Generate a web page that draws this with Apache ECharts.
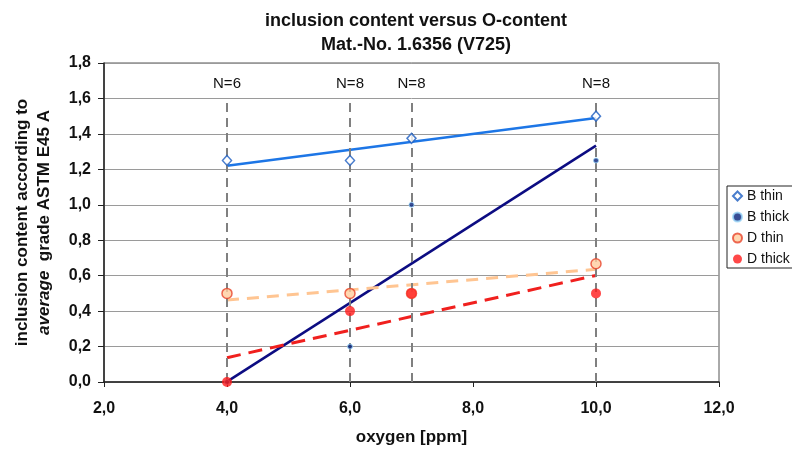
<!DOCTYPE html>
<html>
<head>
<meta charset="utf-8">
<script src="https://cdn.jsdelivr.net/npm/echarts@6/dist/echarts.min.js"></script>
<style>
  html, body { margin: 0; padding: 0; background: #fff; }
  #chart { width: 792px; height: 454px; }
</style>
</head>
<body>
<div id="chart"></div>
<script>
// Oxygen content of the heats (ppm) and number of samples per heat
const oxygen = [4, 6, 7, 10];
const sampleCounts = [6, 8, 8, 8];

// Average inclusion grade per ASTM E45 A
const bThin = [1.25, 1.25, 1.375, 1.5];
const bThick = [0, 0.2, 1.0, 1.25];
const dThin = [0.5, 0.5, 0.5, 0.667];
const dThick = [0, 0.4, 0.5, 0.5];

const seriesNames = ['B thin', 'B thick', 'D thin', 'D thick'];

const FONT = '"Liberation Sans", Arial, sans-serif';
const comma = v => v.toFixed(1).replace('.', ',');

// Least-squares trend line evaluated at the smallest and largest oxygen value
function trend(xs, ys) {
  const n = xs.length;
  const mx = xs.reduce((a, b) => a + b, 0) / n;
  const my = ys.reduce((a, b) => a + b, 0) / n;
  let sxy = 0, sxx = 0;
  for (let i = 0; i < n; i++) {
    sxy += (xs[i] - mx) * (ys[i] - my);
    sxx += (xs[i] - mx) * (xs[i] - mx);
  }
  const k = sxy / sxx;
  const x0 = Math.min(...xs), x1 = Math.max(...xs);
  return [[x0, my + k * (x0 - mx)], [x1, my + k * (x1 - mx)]];
}

const pts = ys => oxygen.map((x, i) => [x, ys[i]]);

function trendSeries(ys, color, type, width) {
  return {
    type: 'line', data: trend(oxygen, ys), symbol: 'none', silent: true,
    lineStyle: { color: color, width: width, type: type }, z: 3
  };
}

const chart = echarts.init(document.getElementById('chart'), null, { renderer: 'canvas' });

chart.setOption({
  animation: false,
  backgroundColor: '#fff',
  title: {
    text: 'inclusion content versus O-content\nMat.-No. 1.6356 (V725)',
    left: 411, top: 4, textAlign: 'center',
    textStyle: { fontFamily: FONT, fontWeight: 'bold', fontSize: 18, lineHeight: 24, color: '#111' }
  },
  grid: {
    left: 104, right: 73, top: 63, bottom: 72,
    show: true, borderColor: '#555', borderWidth: 1
  },
  legend: {
    data: seriesNames,
    orient: 'vertical', left: 727, top: 186,
    borderColor: '#222', borderWidth: 1, padding: [3, 6, 2, 5],
    itemWidth: 9, itemHeight: 9, itemGap: 7,
    textStyle: { fontFamily: FONT, fontSize: 14, color: '#111' }
  },
  xAxis: {
    type: 'value', min: 2, max: 12, interval: 2,
    name: 'oxygen [ppm]', nameLocation: 'middle', nameGap: 47,
    nameTextStyle: { fontFamily: FONT, fontWeight: 'bold', fontSize: 17, color: '#111' },
    axisLine: { lineStyle: { color: '#222', width: 1.5 } },
    axisTick: { show: true, length: 5, lineStyle: { color: '#222' } },
    axisLabel: { formatter: comma, fontFamily: FONT, fontWeight: 'bold', fontSize: 16, color: '#111', margin: 19 },
    splitLine: { show: false }
  },
  yAxis: {
    type: 'value', min: 0, max: 1.8, interval: 0.2,
    name: '{n|inclusion content according to}\n{i|average}{n|  grade ASTM E45 A}',
    nameLocation: 'middle', nameGap: 49, nameRotate: 90,
    nameTextStyle: {
      fontFamily: FONT, fontWeight: 'bold', fontSize: 17, color: '#111', lineHeight: 22,
      rich: {
        n: { fontFamily: FONT, fontWeight: 'bold', fontSize: 17, color: '#111', lineHeight: 22 },
        i: { fontFamily: FONT, fontWeight: 'bold', fontStyle: 'italic', fontSize: 17, color: '#111', lineHeight: 22 }
      }
    },
    axisLine: { show: true, lineStyle: { color: '#222', width: 1.5 } },
    axisTick: { show: true, length: 6, lineStyle: { color: '#222' } },
    axisLabel: { formatter: comma, fontFamily: FONT, fontWeight: 'bold', fontSize: 16, color: '#111', margin: 13 },
    splitLine: { show: true, lineStyle: { color: '#9a9a9a', width: 1 } }
  },
  series: [
    // vertical guides with sample counts
    {
      type: 'scatter', data: [], silent: true,
      markLine: {
        silent: true, symbol: ['none', 'none'], animation: false,
        lineStyle: { color: '#808080', width: 2, type: [9, 6] },
        label: { show: true, position: 'end', distance: 11, fontFamily: FONT, fontSize: 15, color: '#111' },
        data: oxygen.map((x, i) => [
          { coord: [x, 0] },
          { coord: [x, 1.58], label: { formatter: 'N=' + sampleCounts[i] } }
        ])
      }
    },
    trendSeries(bThin, '#1d76e6', 'solid', 2.5),
    trendSeries(bThick, '#0c0c82', 'solid', 2.5),
    trendSeries(dThin, '#ffc592', [12, 8], 3),
    trendSeries(dThick, '#f0201e', [14, 8], 3),
    {
      name: 'B thin', type: 'scatter', data: pts(bThin), symbol: 'diamond', symbolSize: [9, 10], z: 6,
      itemStyle: { color: '#ffffff', borderColor: '#1c5cc0', borderWidth: 1.5 }
    },
    {
      name: 'B thick', type: 'scatter', data: pts(bThick), symbol: 'circle', symbolSize: 5, z: 6,
      itemStyle: { color: '#06207a', borderColor: '#9ad6f7', borderWidth: 1 }
    },
    {
      name: 'D thin', type: 'scatter', data: pts(dThin), symbol: 'circle', symbolSize: 10, z: 6,
      itemStyle: { color: '#ffcd9e', borderColor: '#e8442a', borderWidth: 1.5 }
    },
    {
      name: 'D thick', type: 'scatter', data: pts(dThick), symbol: 'circle', symbolSize: 10, z: 7,
      itemStyle: { color: '#ff1a1a' }
    }
  ]
});
</script>
</body>
</html>
